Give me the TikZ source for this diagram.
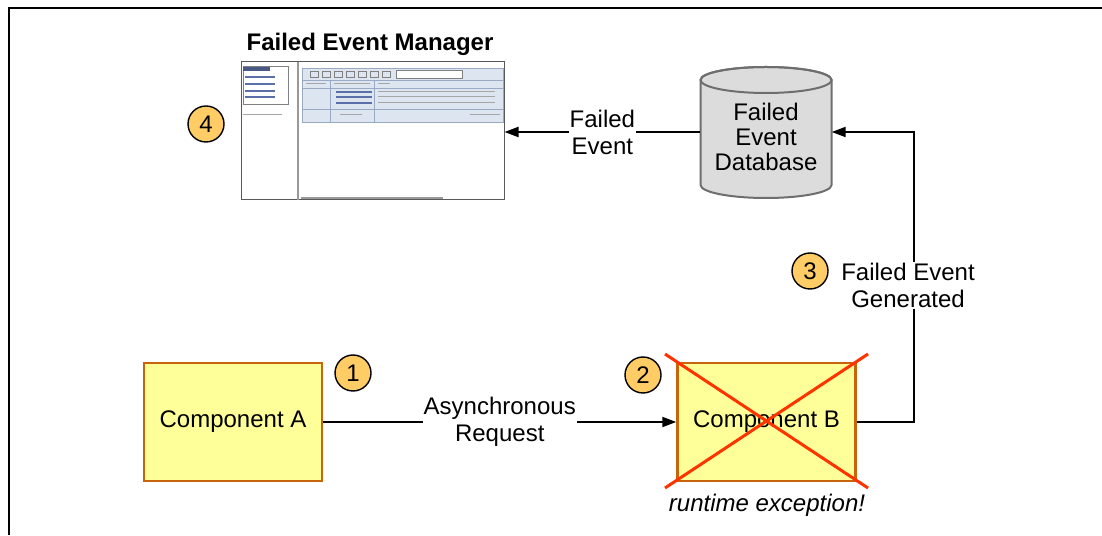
\documentclass[tikz,border=0pt]{standalone}
\usepackage{fontspec}
\setmainfont{Liberation Sans}
\usetikzlibrary{arrows.meta}
\definecolor{boxfill}{HTML}{FFFF99}
\definecolor{boxedge}{HTML}{C8650A}
\definecolor{stepfill}{HTML}{FFCC66}
\definecolor{dbfill}{HTML}{DCDCDC}
\definecolor{dbedge}{HTML}{6E6E6E}
\definecolor{crossred}{HTML}{FF3300}
\definecolor{panelblue}{HTML}{DDE6F0}
\definecolor{rowline}{HTML}{9AAAC4}
\definecolor{linkblue}{HTML}{5A6FA8}
\begin{document}
\begin{tikzpicture}[x=1pt,y=1pt,
  txt/.style={font=\fontsize{24}{27}\selectfont, align=center, inner sep=2pt},
  component/.style={draw=boxedge, line width=2.5pt, fill=boxfill,
    minimum width=178pt, minimum height=118pt, inner sep=0pt,
    font=\fontsize{24}{27}\selectfont},
  stepno/.style={circle, draw=black, line width=1.4pt, fill=stepfill,
    minimum size=36pt, inner sep=0pt, font=\fontsize{24}{27}\selectfont},
  flow/.style={line width=2pt, -{Triangle[length=14pt,width=10pt]}},
  label/.style={txt, fill=white, inner sep=1pt},
  bar/.style={line width=1.2pt, linkblue},
  greybar/.style={line width=1pt, gray!70}
]
\useasboundingbox (0,0) rectangle (1102,535);
\fill[white] (0,0) rectangle (1102,535);

% outer frame (top and left edges)
\draw[line width=1.8pt] (9,0) -- (9,527) -- (1102,527);

% ---- Failed Event Manager screenshot ----
\node[txt, font=\fontsize{24}{27}\selectfont\bfseries] (fem) at (370,491) {Failed Event Manager};
\node[draw=gray!70!black, line width=1pt, fill=white, minimum width=263pt,
      minimum height=138pt, inner sep=0pt] (shot) at (372.5,404) {};
% left navigation panel
\draw[gray, line width=1pt] (243,430) rectangle (288,468);
\fill[linkblue!80!black] (243,464) rectangle (270,468);
\foreach \yy in {458,451,444,438} \draw[bar] (245,\yy) -- (275,\yy);
\draw[greybar] (243,420) -- (282,420);
\draw[gray!80, line width=1.2pt] (298,335) -- (298,473);
% event table area
\fill[panelblue] (302,413) rectangle (503,467);
\draw[rowline, line width=0.8pt] (302,413) rectangle (503,467);
\foreach \xx in {314,326,338,350,362,374,386} \draw[gray, line width=0.8pt] (\xx-4,458) rectangle (\xx+4,464);
\draw[gray, fill=white, line width=0.8pt] (396,457) rectangle (462,465);
\draw[rowline, line width=0.8pt] (302,455) -- (503,455);
\foreach \xx in {330,374} \draw[rowline] (\xx,413) -- (\xx,455);
\draw[greybar] (306,451) -- (326,451);
\draw[greybar] (334,451) -- (370,451);
\draw[greybar] (378,451) -- (390,451);
\draw[rowline, line width=0.8pt] (302,447) -- (503,447);
\foreach \yy in {443,438,432} {
  \draw[bar] (336,\yy) -- (372,\yy);
  \draw[greybar] (378,\yy) -- (495,\yy);
}
\draw[rowline, line width=0.8pt] (302,426) -- (503,426);
\draw[greybar] (340,420) -- (362,420);
\draw[greybar] (470,420) -- (500,420);
% horizontal scroll bar
\draw[gray!80, line width=2.5pt] (301,337) -- (443,337);

\node[stepno] (s4) at (206,411) {4};

% ---- Failed Event Database ----
\node[minimum width=131pt, minimum height=131pt, inner sep=0pt] (db) at (766,403) {};
\filldraw[fill=dbfill, draw=dbedge, line width=2pt]
  (700.5,455) -- (700.5,350)
  arc[start angle=180, end angle=360, x radius=65.5pt, y radius=13pt]
  -- (831.5,455)
  arc[start angle=0, end angle=180, x radius=65.5pt, y radius=13pt];
\draw[dbedge, line width=2pt] (766,455) ellipse[x radius=65.5pt, y radius=13pt];
\node[txt] (dbtext) at (766,398) {Failed\\[-2pt]Event\\[-2pt]Database};

% ---- components ----
\node[component] (ca) at (233,113) {Component A};
\node[component] (cb) at (766.5,113) {Component B};
\draw[crossred, line width=3pt] (665,181) -- (868,47) (868,181) -- (665,47);
\node[txt, font=\fontsize{24}{27}\selectfont\itshape] (rte) at (767,30) {runtime exception!};

\node[stepno] (s1) at (353,162) {1};
\node[stepno] (s2) at (643,160) {2};
\node[stepno] (s3) at (810,264) {3};

% ---- connectors ----
\draw[flow] (ca.east) -- node[label] {Asynchronous\\Request} (cb.west);
\coordinate (up) at (914,113);
\coordinate (top) at (914,403);
\draw[flow] (cb.east) -- (up) -- node[label, pos=0.47, xshift=-6pt] (gen) {Failed Event\\Generated} (top) -- (db.east);
\draw[flow] (db.west) -- node[label] (fe) {Failed\\Event} (db.west -| shot.east);
\end{tikzpicture}
\end{document}
